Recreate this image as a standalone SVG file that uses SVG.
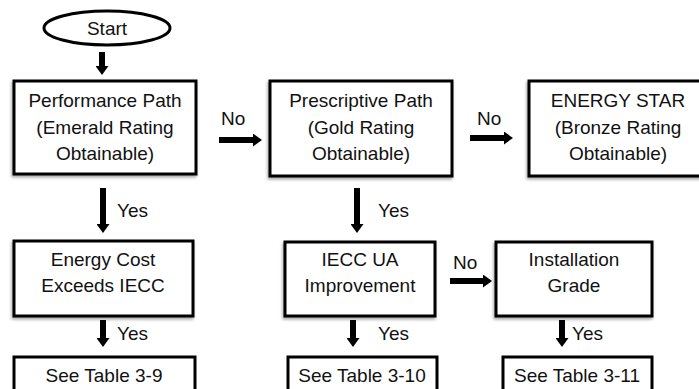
<svg xmlns="http://www.w3.org/2000/svg" width="699" height="389" viewBox="0 0 699 389">
<style>
.box{fill:#fff;stroke:#000;stroke-width:3}
.t{font-family:"Liberation Sans",Arial,sans-serif;font-size:19px;fill:#111;text-anchor:middle}
.lbl{font-family:"Liberation Sans",Arial,sans-serif;font-size:19px;fill:#111}
.arr{stroke:#000;stroke-width:6;fill:none;marker-end:url(#ah)}
</style>
<defs>
<marker id="ah" markerUnits="userSpaceOnUse" markerWidth="9" markerHeight="13" refX="1" refY="6.5" orient="auto">
<path d="M0,0 L9,6.5 L0,13 z" fill="#000"/>
</marker>
<filter id="sh" x="-10%" y="-10%" width="120%" height="130%">
<feDropShadow dx="-1" dy="2" stdDeviation="1.5" flood-color="#000" flood-opacity="0.35"/>
</filter>
</defs>
<rect width="699" height="389" fill="#fff"/>

<g id="connectors">
<line class="arr" x1="102" y1="52" x2="102" y2="67"/>
<line class="arr" x1="219" y1="140" x2="254" y2="140"/>
<line class="arr" x1="470" y1="138" x2="505" y2="138"/>
<line class="arr" x1="103" y1="188" x2="103" y2="225"/>
<line class="arr" x1="103" y1="320" x2="103" y2="339"/>
<line class="arr" x1="357" y1="188" x2="357" y2="225"/>
<line class="arr" x1="353" y1="320" x2="353" y2="339"/>
<line class="arr" x1="450" y1="281" x2="484" y2="281"/>
<line class="arr" x1="562" y1="320" x2="562" y2="339"/>
<text class="lbl" x="221" y="125">No</text>
<text class="lbl" x="477" y="125">No</text>
<text class="lbl" x="117" y="217">Yes</text>
<text class="lbl" x="117" y="340">Yes</text>
<text class="lbl" x="378" y="217">Yes</text>
<text class="lbl" x="378" y="340">Yes</text>
<text class="lbl" x="453" y="269">No</text>
<text class="lbl" x="572" y="340">Yes</text>
</g>

<g id="start">
<ellipse class="box" cx="107" cy="28" rx="63" ry="17"/>
<text class="t" x="107" y="35">Start</text>
</g>

<g id="performance">
<rect class="box" x="14" y="81" width="182" height="93" filter="url(#sh)"/>
<text class="t" x="105" y="107">Performance Path</text>
<text class="t" x="105" y="134">(Emerald Rating</text>
<text class="t" x="105" y="160">Obtainable)</text>
</g>

<g id="prescriptive">
<rect class="box" x="270" y="81" width="182" height="95" filter="url(#sh)"/>
<text class="t" x="361" y="107">Prescriptive Path</text>
<text class="t" x="361" y="134">(Gold Rating</text>
<text class="t" x="361" y="160">Obtainable)</text>
</g>

<g id="energystar">
<rect class="box" x="529" y="81" width="180" height="95" filter="url(#sh)"/>
<text class="t" x="618" y="107">ENERGY STAR</text>
<text class="t" x="618" y="134">(Bronze Rating</text>
<text class="t" x="618" y="160">Obtainable)</text>
</g>

<g id="energycost">
<rect class="box" x="14" y="241" width="179" height="75" filter="url(#sh)"/>
<text class="t" x="103" y="266">Energy Cost</text>
<text class="t" x="103" y="292">Exceeds IECC</text>
</g>

<g id="iecc">
<rect class="box" x="285" y="242" width="150" height="74" filter="url(#sh)"/>
<text class="t" x="360" y="266">IECC UA</text>
<text class="t" x="360" y="292">Improvement</text>
</g>

<g id="installation">
<rect class="box" x="496" y="242" width="156" height="74" filter="url(#sh)"/>
<text class="t" x="574" y="266">Installation</text>
<text class="t" x="574" y="292">Grade</text>
</g>

<g id="table39">
<rect class="box" x="14" y="357" width="181" height="50"/>
<text class="t" x="104" y="382">See Table 3-9</text>
</g>

<g id="table310">
<rect class="box" x="288" y="357" width="149" height="50"/>
<text class="t" x="362" y="382">See Table 3-10</text>
</g>

<g id="table311">
<rect class="box" x="503" y="357" width="149" height="50"/>
<text class="t" x="577" y="382">See Table 3-11</text>
</g>
</svg>
